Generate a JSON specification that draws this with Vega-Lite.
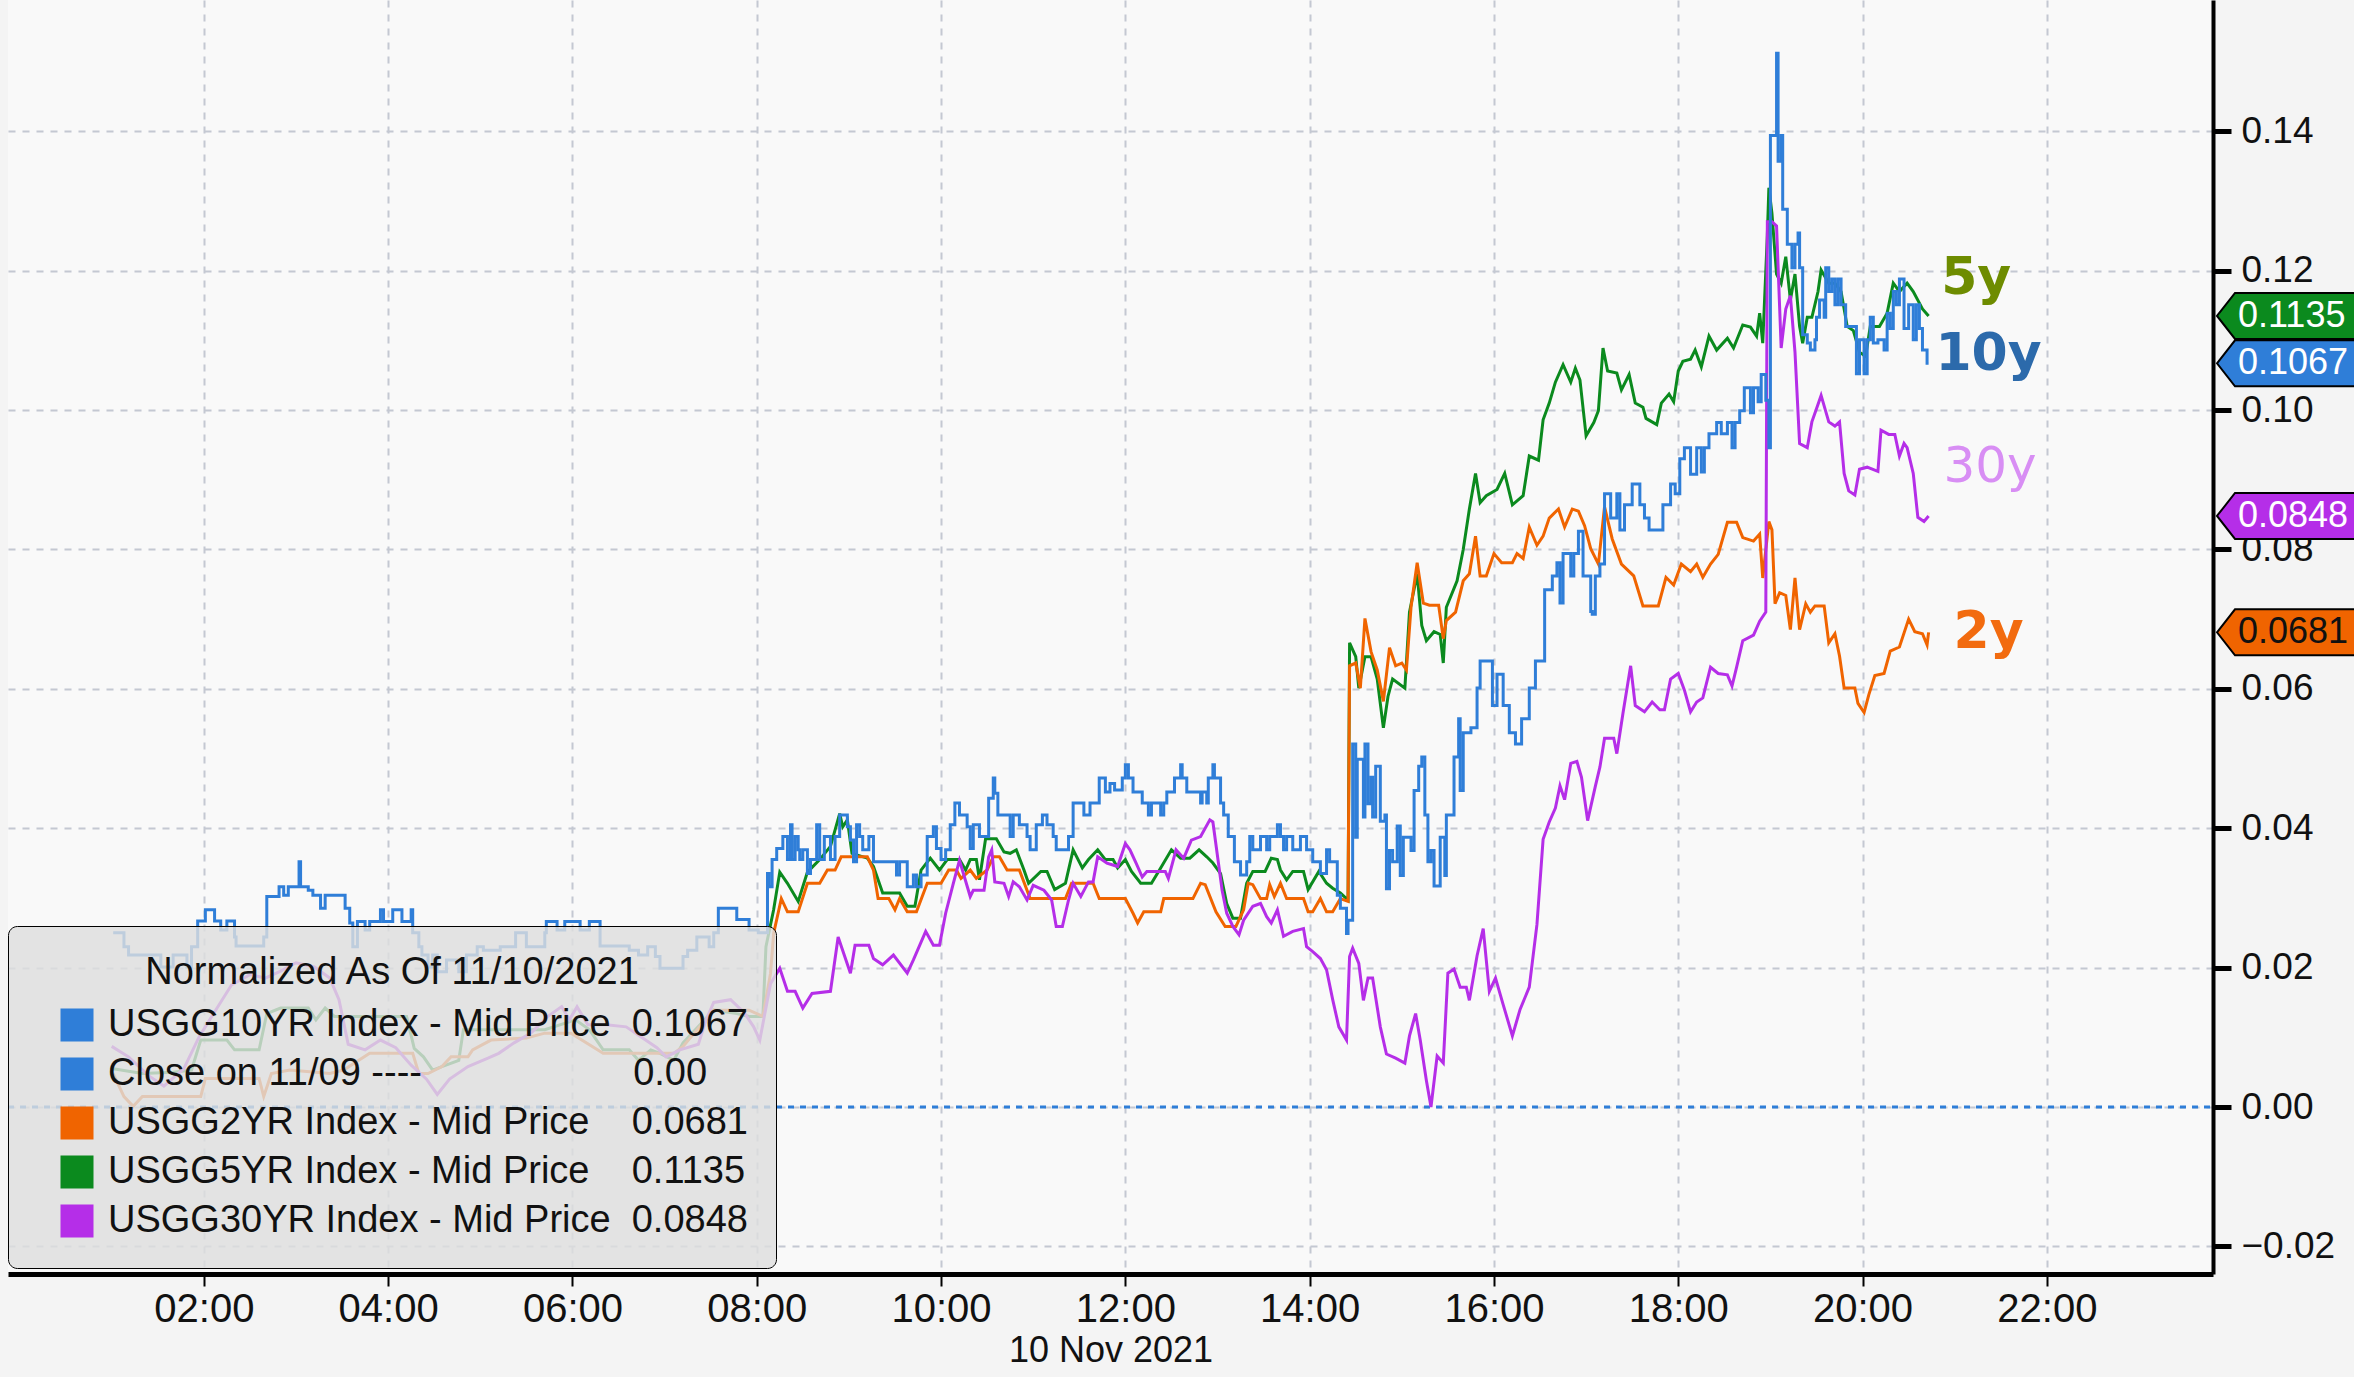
{
  "$schema": "https://vega.github.io/schema/vega-lite/v6.json",
  "width": 2205,
  "height": 1274,
  "autosize": {"type": "none"},
  "padding": {"left": 8, "top": 0, "right": 141, "bottom": 103},
  "background": "#f4f4f4",
  "config": {
    "view": {"stroke": null, "fill": "#f9f9f9"},
    "font": "Liberation Sans"
  },
  "datasets": {
    "names": [
      {"series": "USGG10YR", "name": "USGG10YR Index - Mid Price\u00a0\u00a00.1067"},
      {"series": "Close", "name": "Close on 11/09 ----\u00a0\u00a0\u00a0\u00a0\u00a0\u00a0\u00a0\u00a0\u00a0\u00a0\u00a0\u00a0\u00a0\u00a0\u00a0\u00a0\u00a0\u00a0\u00a0\u00a00.00"},
      {"series": "USGG2YR", "name": "USGG2YR Index - Mid Price\u00a0\u00a0\u00a0\u00a00.0681"},
      {"series": "USGG5YR", "name": "USGG5YR Index - Mid Price\u00a0\u00a0\u00a0\u00a00.1135"},
      {"series": "USGG30YR", "name": "USGG30YR Index - Mid Price\u00a0\u00a00.0848"}
    ],
    "tags": [
      {"series": "USGG5YR", "time": "2021-11-10T23:48:10", "value": 0.1135},
      {"series": "USGG10YR", "time": "2021-11-10T23:48:10", "value": 0.1067},
      {"series": "USGG30YR", "time": "2021-11-10T23:48:10", "value": 0.0848},
      {"series": "USGG2YR", "time": "2021-11-10T23:48:10", "value": 0.0681}
    ],
    "notes": [
      {"label": "5y", "time": "2021-11-10T21:14", "value": 0.1189},
      {"label": "10y", "time": "2021-11-10T21:22", "value": 0.1080},
      {"label": "30y", "time": "2021-11-10T21:23", "value": 0.0918},
      {"label": "2y", "time": "2021-11-10T21:22", "value": 0.0681}
    ],
    "closeline": [
      {"series": "Close", "time": "2021-11-09T23:52:30", "value": 0},
      {"series": "Close", "time": "2021-11-10T23:48:10", "value": 0}
    ],
    "yields": [
      {"series":"USGG10YR","time":"2021-11-10T01:01","value":0.0250},
      {"series":"USGG10YR","time":"2021-11-10T01:08","value":0.0230},
      {"series":"USGG10YR","time":"2021-11-10T01:11","value":0.0218},
      {"series":"USGG10YR","time":"2021-11-10T01:32","value":0.0201},
      {"series":"USGG10YR","time":"2021-11-10T01:40","value":0.0218},
      {"series":"USGG10YR","time":"2021-11-10T01:49","value":0.0201},
      {"series":"USGG10YR","time":"2021-11-10T01:52","value":0.0230},
      {"series":"USGG10YR","time":"2021-11-10T01:56","value":0.0267},
      {"series":"USGG10YR","time":"2021-11-10T02:01","value":0.0283},
      {"series":"USGG10YR","time":"2021-11-10T02:07","value":0.0267},
      {"series":"USGG10YR","time":"2021-11-10T02:11","value":0.0254},
      {"series":"USGG10YR","time":"2021-11-10T02:15","value":0.0267},
      {"series":"USGG10YR","time":"2021-11-10T02:20","value":0.0244},
      {"series":"USGG10YR","time":"2021-11-10T02:21","value":0.0231},
      {"series":"USGG10YR","time":"2021-11-10T02:39","value":0.0244},
      {"series":"USGG10YR","time":"2021-11-10T02:41","value":0.0302},
      {"series":"USGG10YR","time":"2021-11-10T02:49","value":0.0316},
      {"series":"USGG10YR","time":"2021-11-10T02:52","value":0.0304},
      {"series":"USGG10YR","time":"2021-11-10T02:55","value":0.0316},
      {"series":"USGG10YR","time":"2021-11-10T03:02","value":0.0352},
      {"series":"USGG10YR","time":"2021-11-10T03:03","value":0.0316},
      {"series":"USGG10YR","time":"2021-11-10T03:08","value":0.0311},
      {"series":"USGG10YR","time":"2021-11-10T03:11","value":0.0304},
      {"series":"USGG10YR","time":"2021-11-10T03:16","value":0.0285},
      {"series":"USGG10YR","time":"2021-11-10T03:19","value":0.0304},
      {"series":"USGG10YR","time":"2021-11-10T03:32","value":0.0285},
      {"series":"USGG10YR","time":"2021-11-10T03:35","value":0.0264},
      {"series":"USGG10YR","time":"2021-11-10T03:37","value":0.0230},
      {"series":"USGG10YR","time":"2021-11-10T03:40","value":0.0266},
      {"series":"USGG10YR","time":"2021-11-10T03:45","value":0.0254},
      {"series":"USGG10YR","time":"2021-11-10T03:48","value":0.0266},
      {"series":"USGG10YR","time":"2021-11-10T03:55","value":0.0283},
      {"series":"USGG10YR","time":"2021-11-10T03:57","value":0.0266},
      {"series":"USGG10YR","time":"2021-11-10T04:03","value":0.0283},
      {"series":"USGG10YR","time":"2021-11-10T04:09","value":0.0266},
      {"series":"USGG10YR","time":"2021-11-10T04:15","value":0.0283},
      {"series":"USGG10YR","time":"2021-11-10T04:16","value":0.0250},
      {"series":"USGG10YR","time":"2021-11-10T04:20","value":0.0230},
      {"series":"USGG10YR","time":"2021-11-10T04:22","value":0.0218},
      {"series":"USGG10YR","time":"2021-11-10T04:26","value":0.0201},
      {"series":"USGG10YR","time":"2021-11-10T04:29","value":0.0218},
      {"series":"USGG10YR","time":"2021-11-10T04:32","value":0.0194},
      {"series":"USGG10YR","time":"2021-11-10T04:38","value":0.0211},
      {"series":"USGG10YR","time":"2021-11-10T04:46","value":0.0194},
      {"series":"USGG10YR","time":"2021-11-10T04:51","value":0.0218},
      {"series":"USGG10YR","time":"2021-11-10T04:58","value":0.0230},
      {"series":"USGG10YR","time":"2021-11-10T05:02","value":0.0225},
      {"series":"USGG10YR","time":"2021-11-10T05:13","value":0.0230},
      {"series":"USGG10YR","time":"2021-11-10T05:23","value":0.0250},
      {"series":"USGG10YR","time":"2021-11-10T05:30","value":0.0230},
      {"series":"USGG10YR","time":"2021-11-10T05:42","value":0.0250},
      {"series":"USGG10YR","time":"2021-11-10T05:43","value":0.0266},
      {"series":"USGG10YR","time":"2021-11-10T05:50","value":0.0254},
      {"series":"USGG10YR","time":"2021-11-10T05:55","value":0.0266},
      {"series":"USGG10YR","time":"2021-11-10T06:05","value":0.0254},
      {"series":"USGG10YR","time":"2021-11-10T06:11","value":0.0266},
      {"series":"USGG10YR","time":"2021-11-10T06:18","value":0.0231},
      {"series":"USGG10YR","time":"2021-11-10T06:37","value":0.0225},
      {"series":"USGG10YR","time":"2021-11-10T06:43","value":0.0218},
      {"series":"USGG10YR","time":"2021-11-10T06:49","value":0.0230},
      {"series":"USGG10YR","time":"2021-11-10T06:54","value":0.0216},
      {"series":"USGG10YR","time":"2021-11-10T06:57","value":0.0199},
      {"series":"USGG10YR","time":"2021-11-10T07:12","value":0.0216},
      {"series":"USGG10YR","time":"2021-11-10T07:15","value":0.0225},
      {"series":"USGG10YR","time":"2021-11-10T07:21","value":0.0244},
      {"series":"USGG10YR","time":"2021-11-10T07:29","value":0.0230},
      {"series":"USGG10YR","time":"2021-11-10T07:32","value":0.0250},
      {"series":"USGG10YR","time":"2021-11-10T07:35","value":0.0285},
      {"series":"USGG10YR","time":"2021-11-10T07:47","value":0.0269},
      {"series":"USGG10YR","time":"2021-11-10T07:55","value":0.0254},
      {"series":"USGG10YR","time":"2021-11-10T08:01","value":0.0250},
      {"series":"USGG10YR","time":"2021-11-10T08:07","value":0.0335},
      {"series":"USGG10YR","time":"2021-11-10T08:08","value":0.0316},
      {"series":"USGG10YR","time":"2021-11-10T08:10","value":0.0355},
      {"series":"USGG10YR","time":"2021-11-10T08:13","value":0.0371},
      {"series":"USGG10YR","time":"2021-11-10T08:17","value":0.0388},
      {"series":"USGG10YR","time":"2021-11-10T08:20","value":0.0355},
      {"series":"USGG10YR","time":"2021-11-10T08:22","value":0.0405},
      {"series":"USGG10YR","time":"2021-11-10T08:23","value":0.0355},
      {"series":"USGG10YR","time":"2021-11-10T08:25","value":0.0388},
      {"series":"USGG10YR","time":"2021-11-10T08:27","value":0.0369},
      {"series":"USGG10YR","time":"2021-11-10T08:28","value":0.0355},
      {"series":"USGG10YR","time":"2021-11-10T08:30","value":0.0369},
      {"series":"USGG10YR","time":"2021-11-10T08:33","value":0.0335},
      {"series":"USGG10YR","time":"2021-11-10T08:35","value":0.0355},
      {"series":"USGG10YR","time":"2021-11-10T08:39","value":0.0405},
      {"series":"USGG10YR","time":"2021-11-10T08:41","value":0.0355},
      {"series":"USGG10YR","time":"2021-11-10T08:44","value":0.0388},
      {"series":"USGG10YR","time":"2021-11-10T08:48","value":0.0355},
      {"series":"USGG10YR","time":"2021-11-10T08:51","value":0.0388},
      {"series":"USGG10YR","time":"2021-11-10T08:54","value":0.0419},
      {"series":"USGG10YR","time":"2021-11-10T08:59","value":0.0402},
      {"series":"USGG10YR","time":"2021-11-10T09:01","value":0.0383},
      {"series":"USGG10YR","time":"2021-11-10T09:03","value":0.0352},
      {"series":"USGG10YR","time":"2021-11-10T09:05","value":0.0405},
      {"series":"USGG10YR","time":"2021-11-10T09:07","value":0.0388},
      {"series":"USGG10YR","time":"2021-11-10T09:09","value":0.0369},
      {"series":"USGG10YR","time":"2021-11-10T09:13","value":0.0388},
      {"series":"USGG10YR","time":"2021-11-10T09:16","value":0.0352},
      {"series":"USGG10YR","time":"2021-11-10T09:31","value":0.0333},
      {"series":"USGG10YR","time":"2021-11-10T09:33","value":0.0352},
      {"series":"USGG10YR","time":"2021-11-10T09:38","value":0.0316},
      {"series":"USGG10YR","time":"2021-11-10T09:42","value":0.0333},
      {"series":"USGG10YR","time":"2021-11-10T09:44","value":0.0316},
      {"series":"USGG10YR","time":"2021-11-10T09:47","value":0.0333},
      {"series":"USGG10YR","time":"2021-11-10T09:51","value":0.0388},
      {"series":"USGG10YR","time":"2021-11-10T09:55","value":0.0402},
      {"series":"USGG10YR","time":"2021-11-10T09:57","value":0.0371},
      {"series":"USGG10YR","time":"2021-11-10T10:00","value":0.0355},
      {"series":"USGG10YR","time":"2021-11-10T10:03","value":0.0369},
      {"series":"USGG10YR","time":"2021-11-10T10:06","value":0.0405},
      {"series":"USGG10YR","time":"2021-11-10T10:09","value":0.0436},
      {"series":"USGG10YR","time":"2021-11-10T10:12","value":0.0419},
      {"series":"USGG10YR","time":"2021-11-10T10:17","value":0.0402},
      {"series":"USGG10YR","time":"2021-11-10T10:19","value":0.0371},
      {"series":"USGG10YR","time":"2021-11-10T10:21","value":0.0405},
      {"series":"USGG10YR","time":"2021-11-10T10:25","value":0.0388},
      {"series":"USGG10YR","time":"2021-11-10T10:31","value":0.0443},
      {"series":"USGG10YR","time":"2021-11-10T10:34","value":0.0472},
      {"series":"USGG10YR","time":"2021-11-10T10:35","value":0.0450},
      {"series":"USGG10YR","time":"2021-11-10T10:37","value":0.0419},
      {"series":"USGG10YR","time":"2021-11-10T10:45","value":0.0388},
      {"series":"USGG10YR","time":"2021-11-10T10:47","value":0.0419},
      {"series":"USGG10YR","time":"2021-11-10T10:51","value":0.0405},
      {"series":"USGG10YR","time":"2021-11-10T10:56","value":0.0388},
      {"series":"USGG10YR","time":"2021-11-10T10:58","value":0.0369},
      {"series":"USGG10YR","time":"2021-11-10T11:02","value":0.0405},
      {"series":"USGG10YR","time":"2021-11-10T11:06","value":0.0419},
      {"series":"USGG10YR","time":"2021-11-10T11:09","value":0.0405},
      {"series":"USGG10YR","time":"2021-11-10T11:13","value":0.0388},
      {"series":"USGG10YR","time":"2021-11-10T11:15","value":0.0369},
      {"series":"USGG10YR","time":"2021-11-10T11:23","value":0.0388},
      {"series":"USGG10YR","time":"2021-11-10T11:26","value":0.0436},
      {"series":"USGG10YR","time":"2021-11-10T11:33","value":0.0419},
      {"series":"USGG10YR","time":"2021-11-10T11:37","value":0.0436},
      {"series":"USGG10YR","time":"2021-11-10T11:43","value":0.0472},
      {"series":"USGG10YR","time":"2021-11-10T11:47","value":0.0452},
      {"series":"USGG10YR","time":"2021-11-10T11:50","value":0.0464},
      {"series":"USGG10YR","time":"2021-11-10T11:53","value":0.0455},
      {"series":"USGG10YR","time":"2021-11-10T11:58","value":0.0472},
      {"series":"USGG10YR","time":"2021-11-10T12:00","value":0.0491},
      {"series":"USGG10YR","time":"2021-11-10T12:02","value":0.0472},
      {"series":"USGG10YR","time":"2021-11-10T12:05","value":0.0452},
      {"series":"USGG10YR","time":"2021-11-10T12:11","value":0.0436},
      {"series":"USGG10YR","time":"2021-11-10T12:15","value":0.0419},
      {"series":"USGG10YR","time":"2021-11-10T12:17","value":0.0436},
      {"series":"USGG10YR","time":"2021-11-10T12:23","value":0.0419},
      {"series":"USGG10YR","time":"2021-11-10T12:25","value":0.0436},
      {"series":"USGG10YR","time":"2021-11-10T12:27","value":0.0452},
      {"series":"USGG10YR","time":"2021-11-10T12:32","value":0.0472},
      {"series":"USGG10YR","time":"2021-11-10T12:36","value":0.0491},
      {"series":"USGG10YR","time":"2021-11-10T12:37","value":0.0472},
      {"series":"USGG10YR","time":"2021-11-10T12:40","value":0.0452},
      {"series":"USGG10YR","time":"2021-11-10T12:49","value":0.0436},
      {"series":"USGG10YR","time":"2021-11-10T12:50","value":0.0452},
      {"series":"USGG10YR","time":"2021-11-10T12:53","value":0.0436},
      {"series":"USGG10YR","time":"2021-11-10T12:54","value":0.0472},
      {"series":"USGG10YR","time":"2021-11-10T12:57","value":0.0491},
      {"series":"USGG10YR","time":"2021-11-10T12:58","value":0.0472},
      {"series":"USGG10YR","time":"2021-11-10T13:02","value":0.0436},
      {"series":"USGG10YR","time":"2021-11-10T13:04","value":0.0419},
      {"series":"USGG10YR","time":"2021-11-10T13:07","value":0.0388},
      {"series":"USGG10YR","time":"2021-11-10T13:11","value":0.0352},
      {"series":"USGG10YR","time":"2021-11-10T13:15","value":0.0333},
      {"series":"USGG10YR","time":"2021-11-10T13:19","value":0.0352},
      {"series":"USGG10YR","time":"2021-11-10T13:21","value":0.0388},
      {"series":"USGG10YR","time":"2021-11-10T13:23","value":0.0369},
      {"series":"USGG10YR","time":"2021-11-10T13:28","value":0.0388},
      {"series":"USGG10YR","time":"2021-11-10T13:32","value":0.0369},
      {"series":"USGG10YR","time":"2021-11-10T13:34","value":0.0388},
      {"series":"USGG10YR","time":"2021-11-10T13:39","value":0.0405},
      {"series":"USGG10YR","time":"2021-11-10T13:41","value":0.0388},
      {"series":"USGG10YR","time":"2021-11-10T13:43","value":0.0369},
      {"series":"USGG10YR","time":"2021-11-10T13:45","value":0.0388},
      {"series":"USGG10YR","time":"2021-11-10T13:49","value":0.0369},
      {"series":"USGG10YR","time":"2021-11-10T13:54","value":0.0388},
      {"series":"USGG10YR","time":"2021-11-10T13:58","value":0.0369},
      {"series":"USGG10YR","time":"2021-11-10T14:02","value":0.0352},
      {"series":"USGG10YR","time":"2021-11-10T14:07","value":0.0335},
      {"series":"USGG10YR","time":"2021-11-10T14:11","value":0.0369},
      {"series":"USGG10YR","time":"2021-11-10T14:13","value":0.0352},
      {"series":"USGG10YR","time":"2021-11-10T14:18","value":0.0304},
      {"series":"USGG10YR","time":"2021-11-10T14:20","value":0.0285},
      {"series":"USGG10YR","time":"2021-11-10T14:24","value":0.0249},
      {"series":"USGG10YR","time":"2021-11-10T14:25","value":0.0268},
      {"series":"USGG10YR","time":"2021-11-10T14:28","value":0.0521},
      {"series":"USGG10YR","time":"2021-11-10T14:30","value":0.0387},
      {"series":"USGG10YR","time":"2021-11-10T14:31","value":0.0499},
      {"series":"USGG10YR","time":"2021-11-10T14:35","value":0.0416},
      {"series":"USGG10YR","time":"2021-11-10T14:36","value":0.0521},
      {"series":"USGG10YR","time":"2021-11-10T14:38","value":0.0435},
      {"series":"USGG10YR","time":"2021-11-10T14:40","value":0.0473},
      {"series":"USGG10YR","time":"2021-11-10T14:41","value":0.0416},
      {"series":"USGG10YR","time":"2021-11-10T14:43","value":0.0489},
      {"series":"USGG10YR","time":"2021-11-10T14:46","value":0.0410},
      {"series":"USGG10YR","time":"2021-11-10T14:49","value":0.0419},
      {"series":"USGG10YR","time":"2021-11-10T14:50","value":0.0313},
      {"series":"USGG10YR","time":"2021-11-10T14:52","value":0.0368},
      {"series":"USGG10YR","time":"2021-11-10T14:54","value":0.0352},
      {"series":"USGG10YR","time":"2021-11-10T14:57","value":0.0403},
      {"series":"USGG10YR","time":"2021-11-10T14:59","value":0.0332},
      {"series":"USGG10YR","time":"2021-11-10T15:01","value":0.0387},
      {"series":"USGG10YR","time":"2021-11-10T15:06","value":0.0368},
      {"series":"USGG10YR","time":"2021-11-10T15:08","value":0.0454},
      {"series":"USGG10YR","time":"2021-11-10T15:11","value":0.0489},
      {"series":"USGG10YR","time":"2021-11-10T15:13","value":0.0502},
      {"series":"USGG10YR","time":"2021-11-10T15:15","value":0.0419},
      {"series":"USGG10YR","time":"2021-11-10T15:17","value":0.0352},
      {"series":"USGG10YR","time":"2021-11-10T15:19","value":0.0368},
      {"series":"USGG10YR","time":"2021-11-10T15:21","value":0.0317},
      {"series":"USGG10YR","time":"2021-11-10T15:25","value":0.0387},
      {"series":"USGG10YR","time":"2021-11-10T15:28","value":0.0332},
      {"series":"USGG10YR","time":"2021-11-10T15:29","value":0.0419},
      {"series":"USGG10YR","time":"2021-11-10T15:34","value":0.0502},
      {"series":"USGG10YR","time":"2021-11-10T15:37","value":0.0557},
      {"series":"USGG10YR","time":"2021-11-10T15:38","value":0.0454},
      {"series":"USGG10YR","time":"2021-11-10T15:40","value":0.0537},
      {"series":"USGG10YR","time":"2021-11-10T15:45","value":0.0544},
      {"series":"USGG10YR","time":"2021-11-10T15:49","value":0.0601},
      {"series":"USGG10YR","time":"2021-11-10T15:51","value":0.0640},
      {"series":"USGG10YR","time":"2021-11-10T15:59","value":0.0576},
      {"series":"USGG10YR","time":"2021-11-10T16:02","value":0.0621},
      {"series":"USGG10YR","time":"2021-11-10T16:06","value":0.0576},
      {"series":"USGG10YR","time":"2021-11-10T16:10","value":0.0537},
      {"series":"USGG10YR","time":"2021-11-10T16:14","value":0.0521},
      {"series":"USGG10YR","time":"2021-11-10T16:18","value":0.0557},
      {"series":"USGG10YR","time":"2021-11-10T16:23","value":0.0601},
      {"series":"USGG10YR","time":"2021-11-10T16:27","value":0.0640},
      {"series":"USGG10YR","time":"2021-11-10T16:33","value":0.0742},
      {"series":"USGG10YR","time":"2021-11-10T16:38","value":0.0762},
      {"series":"USGG10YR","time":"2021-11-10T16:41","value":0.0781},
      {"series":"USGG10YR","time":"2021-11-10T16:43","value":0.0723},
      {"series":"USGG10YR","time":"2021-11-10T16:45","value":0.0794},
      {"series":"USGG10YR","time":"2021-11-10T16:50","value":0.0762},
      {"series":"USGG10YR","time":"2021-11-10T16:52","value":0.0794},
      {"series":"USGG10YR","time":"2021-11-10T16:55","value":0.0826},
      {"series":"USGG10YR","time":"2021-11-10T16:58","value":0.0762},
      {"series":"USGG10YR","time":"2021-11-10T17:03","value":0.0711},
      {"series":"USGG10YR","time":"2021-11-10T17:04","value":0.0707},
      {"series":"USGG10YR","time":"2021-11-10T17:06","value":0.0762},
      {"series":"USGG10YR","time":"2021-11-10T17:09","value":0.0779},
      {"series":"USGG10YR","time":"2021-11-10T17:12","value":0.0880},
      {"series":"USGG10YR","time":"2021-11-10T17:16","value":0.0845},
      {"series":"USGG10YR","time":"2021-11-10T17:20","value":0.0880},
      {"series":"USGG10YR","time":"2021-11-10T17:22","value":0.0828},
      {"series":"USGG10YR","time":"2021-11-10T17:25","value":0.0864},
      {"series":"USGG10YR","time":"2021-11-10T17:30","value":0.0894},
      {"series":"USGG10YR","time":"2021-11-10T17:35","value":0.0864},
      {"series":"USGG10YR","time":"2021-11-10T17:38","value":0.0845},
      {"series":"USGG10YR","time":"2021-11-10T17:41","value":0.0828},
      {"series":"USGG10YR","time":"2021-11-10T17:50","value":0.0864},
      {"series":"USGG10YR","time":"2021-11-10T17:55","value":0.0894},
      {"series":"USGG10YR","time":"2021-11-10T17:58","value":0.0880},
      {"series":"USGG10YR","time":"2021-11-10T18:01","value":0.0930},
      {"series":"USGG10YR","time":"2021-11-10T18:04","value":0.0946},
      {"series":"USGG10YR","time":"2021-11-10T18:08","value":0.0908},
      {"series":"USGG10YR","time":"2021-11-10T18:12","value":0.0946},
      {"series":"USGG10YR","time":"2021-11-10T18:15","value":0.0911},
      {"series":"USGG10YR","time":"2021-11-10T18:17","value":0.0946},
      {"series":"USGG10YR","time":"2021-11-10T18:20","value":0.0966},
      {"series":"USGG10YR","time":"2021-11-10T18:25","value":0.0982},
      {"series":"USGG10YR","time":"2021-11-10T18:28","value":0.0966},
      {"series":"USGG10YR","time":"2021-11-10T18:32","value":0.0982},
      {"series":"USGG10YR","time":"2021-11-10T18:35","value":0.0946},
      {"series":"USGG10YR","time":"2021-11-10T18:37","value":0.0982},
      {"series":"USGG10YR","time":"2021-11-10T18:40","value":0.0999},
      {"series":"USGG10YR","time":"2021-11-10T18:43","value":0.1032},
      {"series":"USGG10YR","time":"2021-11-10T18:47","value":0.0996},
      {"series":"USGG10YR","time":"2021-11-10T18:49","value":0.1032},
      {"series":"USGG10YR","time":"2021-11-10T18:52","value":0.1012},
      {"series":"USGG10YR","time":"2021-11-10T18:54","value":0.1051},
      {"series":"USGG10YR","time":"2021-11-10T18:57","value":0.1014},
      {"series":"USGG10YR","time":"2021-11-10T18:59","value":0.0946},
      {"series":"USGG10YR","time":"2021-11-10T19:00","value":0.1394},
      {"series":"USGG10YR","time":"2021-11-10T19:04","value":0.1512},
      {"series":"USGG10YR","time":"2021-11-10T19:05","value":0.1357},
      {"series":"USGG10YR","time":"2021-11-10T19:07","value":0.1394},
      {"series":"USGG10YR","time":"2021-11-10T19:08","value":0.1288},
      {"series":"USGG10YR","time":"2021-11-10T19:11","value":0.1238},
      {"series":"USGG10YR","time":"2021-11-10T19:14","value":0.1204},
      {"series":"USGG10YR","time":"2021-11-10T19:16","value":0.1238},
      {"series":"USGG10YR","time":"2021-11-10T19:18","value":0.1254},
      {"series":"USGG10YR","time":"2021-11-10T19:19","value":0.1204},
      {"series":"USGG10YR","time":"2021-11-10T19:21","value":0.1108},
      {"series":"USGG10YR","time":"2021-11-10T19:24","value":0.1096},
      {"series":"USGG10YR","time":"2021-11-10T19:26","value":0.1086},
      {"series":"USGG10YR","time":"2021-11-10T19:29","value":0.1101},
      {"series":"USGG10YR","time":"2021-11-10T19:30","value":0.1133},
      {"series":"USGG10YR","time":"2021-11-10T19:32","value":0.1158},
      {"series":"USGG10YR","time":"2021-11-10T19:35","value":0.1133},
      {"series":"USGG10YR","time":"2021-11-10T19:36","value":0.1204},
      {"series":"USGG10YR","time":"2021-11-10T19:38","value":0.1170},
      {"series":"USGG10YR","time":"2021-11-10T19:40","value":0.1188},
      {"series":"USGG10YR","time":"2021-11-10T19:42","value":0.1151},
      {"series":"USGG10YR","time":"2021-11-10T19:44","value":0.1188},
      {"series":"USGG10YR","time":"2021-11-10T19:46","value":0.1151},
      {"series":"USGG10YR","time":"2021-11-10T19:49","value":0.1120},
      {"series":"USGG10YR","time":"2021-11-10T19:56","value":0.1052},
      {"series":"USGG10YR","time":"2021-11-10T19:58","value":0.1101},
      {"series":"USGG10YR","time":"2021-11-10T20:01","value":0.1052},
      {"series":"USGG10YR","time":"2021-11-10T20:03","value":0.1101},
      {"series":"USGG10YR","time":"2021-11-10T20:05","value":0.1133},
      {"series":"USGG10YR","time":"2021-11-10T20:07","value":0.1096},
      {"series":"USGG10YR","time":"2021-11-10T20:10","value":0.1101},
      {"series":"USGG10YR","time":"2021-11-10T20:14","value":0.1086},
      {"series":"USGG10YR","time":"2021-11-10T20:16","value":0.1139},
      {"series":"USGG10YR","time":"2021-11-10T20:18","value":0.1117},
      {"series":"USGG10YR","time":"2021-11-10T20:20","value":0.1170},
      {"series":"USGG10YR","time":"2021-11-10T20:22","value":0.1151},
      {"series":"USGG10YR","time":"2021-11-10T20:24","value":0.1188},
      {"series":"USGG10YR","time":"2021-11-10T20:27","value":0.1117},
      {"series":"USGG10YR","time":"2021-11-10T20:30","value":0.1151},
      {"series":"USGG10YR","time":"2021-11-10T20:33","value":0.1101},
      {"series":"USGG10YR","time":"2021-11-10T20:35","value":0.1151},
      {"series":"USGG10YR","time":"2021-11-10T20:37","value":0.1117},
      {"series":"USGG10YR","time":"2021-11-10T20:39","value":0.1086},
      {"series":"USGG10YR","time":"2021-11-10T20:42","value":0.1067},
      {"series":"USGG10YR","time":"2021-11-10T20:43","value":0.1067},

      {"series":"USGG5YR","time":"2021-11-10T01:01","value":0.0055},
      {"series":"USGG5YR","time":"2021-11-10T01:20","value":0.0048},
      {"series":"USGG5YR","time":"2021-11-10T01:40","value":0.0050},
      {"series":"USGG5YR","time":"2021-11-10T01:52","value":0.0053},
      {"series":"USGG5YR","time":"2021-11-10T01:58","value":0.0096},
      {"series":"USGG5YR","time":"2021-11-10T02:15","value":0.0096},
      {"series":"USGG5YR","time":"2021-11-10T02:20","value":0.0082},
      {"series":"USGG5YR","time":"2021-11-10T02:36","value":0.0082},
      {"series":"USGG5YR","time":"2021-11-10T02:41","value":0.0134},
      {"series":"USGG5YR","time":"2021-11-10T02:50","value":0.0142},
      {"series":"USGG5YR","time":"2021-11-10T03:08","value":0.0142},
      {"series":"USGG5YR","time":"2021-11-10T03:13","value":0.0125},
      {"series":"USGG5YR","time":"2021-11-10T03:19","value":0.0142},
      {"series":"USGG5YR","time":"2021-11-10T03:25","value":0.0130},
      {"series":"USGG5YR","time":"2021-11-10T04:12","value":0.0130},
      {"series":"USGG5YR","time":"2021-11-10T04:17","value":0.0084},
      {"series":"USGG5YR","time":"2021-11-10T04:23","value":0.0072},
      {"series":"USGG5YR","time":"2021-11-10T04:29","value":0.0053},
      {"series":"USGG5YR","time":"2021-11-10T04:35","value":0.0058},
      {"series":"USGG5YR","time":"2021-11-10T04:46","value":0.0067},
      {"series":"USGG5YR","time":"2021-11-10T04:49","value":0.0111},
      {"series":"USGG5YR","time":"2021-11-10T05:42","value":0.0111},
      {"series":"USGG5YR","time":"2021-11-10T06:02","value":0.0125},
      {"series":"USGG5YR","time":"2021-11-10T06:11","value":0.0111},
      {"series":"USGG5YR","time":"2021-11-10T06:20","value":0.0082},
      {"series":"USGG5YR","time":"2021-11-10T06:37","value":0.0082},
      {"series":"USGG5YR","time":"2021-11-10T06:43","value":0.0067},
      {"series":"USGG5YR","time":"2021-11-10T06:51","value":0.0082},
      {"series":"USGG5YR","time":"2021-11-10T06:57","value":0.0077},
      {"series":"USGG5YR","time":"2021-11-10T07:06","value":0.0067},
      {"series":"USGG5YR","time":"2021-11-10T07:12","value":0.0092},
      {"series":"USGG5YR","time":"2021-11-10T07:32","value":0.0139},
      {"series":"USGG5YR","time":"2021-11-10T07:47","value":0.0134},
      {"series":"USGG5YR","time":"2021-11-10T07:55","value":0.0130},
      {"series":"USGG5YR","time":"2021-11-10T08:04","value":0.0130},
      {"series":"USGG5YR","time":"2021-11-10T08:06","value":0.0230},
      {"series":"USGG5YR","time":"2021-11-10T08:11","value":0.0283},
      {"series":"USGG5YR","time":"2021-11-10T08:15","value":0.0337},
      {"series":"USGG5YR","time":"2021-11-10T08:20","value":0.0321},
      {"series":"USGG5YR","time":"2021-11-10T08:27","value":0.0295},
      {"series":"USGG5YR","time":"2021-11-10T08:33","value":0.0337},
      {"series":"USGG5YR","time":"2021-11-10T08:41","value":0.0355},
      {"series":"USGG5YR","time":"2021-11-10T08:48","value":0.0374},
      {"series":"USGG5YR","time":"2021-11-10T08:54","value":0.0421},
      {"series":"USGG5YR","time":"2021-11-10T08:56","value":0.0402},
      {"series":"USGG5YR","time":"2021-11-10T08:59","value":0.0412},
      {"series":"USGG5YR","time":"2021-11-10T09:02","value":0.0364},
      {"series":"USGG5YR","time":"2021-11-10T09:12","value":0.0357},
      {"series":"USGG5YR","time":"2021-11-10T09:16","value":0.0345},
      {"series":"USGG5YR","time":"2021-11-10T09:22","value":0.0307},
      {"series":"USGG5YR","time":"2021-11-10T09:33","value":0.0307},
      {"series":"USGG5YR","time":"2021-11-10T09:38","value":0.0288},
      {"series":"USGG5YR","time":"2021-11-10T09:43","value":0.0288},
      {"series":"USGG5YR","time":"2021-11-10T09:47","value":0.0340},
      {"series":"USGG5YR","time":"2021-11-10T09:53","value":0.0357},
      {"series":"USGG5YR","time":"2021-11-10T09:59","value":0.0340},
      {"series":"USGG5YR","time":"2021-11-10T10:04","value":0.0355},
      {"series":"USGG5YR","time":"2021-11-10T10:12","value":0.0355},
      {"series":"USGG5YR","time":"2021-11-10T10:16","value":0.0340},
      {"series":"USGG5YR","time":"2021-11-10T10:19","value":0.0355},
      {"series":"USGG5YR","time":"2021-11-10T10:23","value":0.0355},
      {"series":"USGG5YR","time":"2021-11-10T10:25","value":0.0326},
      {"series":"USGG5YR","time":"2021-11-10T10:29","value":0.0385},
      {"series":"USGG5YR","time":"2021-11-10T10:36","value":0.0385},
      {"series":"USGG5YR","time":"2021-11-10T10:41","value":0.0366},
      {"series":"USGG5YR","time":"2021-11-10T10:45","value":0.0364},
      {"series":"USGG5YR","time":"2021-11-10T10:49","value":0.0369},
      {"series":"USGG5YR","time":"2021-11-10T10:54","value":0.0340},
      {"series":"USGG5YR","time":"2021-11-10T10:57","value":0.0321},
      {"series":"USGG5YR","time":"2021-11-10T11:05","value":0.0338},
      {"series":"USGG5YR","time":"2021-11-10T11:09","value":0.0338},
      {"series":"USGG5YR","time":"2021-11-10T11:14","value":0.0312},
      {"series":"USGG5YR","time":"2021-11-10T11:21","value":0.0321},
      {"series":"USGG5YR","time":"2021-11-10T11:26","value":0.0369},
      {"series":"USGG5YR","time":"2021-11-10T11:32","value":0.0343},
      {"series":"USGG5YR","time":"2021-11-10T11:36","value":0.0355},
      {"series":"USGG5YR","time":"2021-11-10T11:42","value":0.0369},
      {"series":"USGG5YR","time":"2021-11-10T11:47","value":0.0355},
      {"series":"USGG5YR","time":"2021-11-10T11:52","value":0.0355},
      {"series":"USGG5YR","time":"2021-11-10T11:55","value":0.0343},
      {"series":"USGG5YR","time":"2021-11-10T12:00","value":0.0355},
      {"series":"USGG5YR","time":"2021-11-10T12:04","value":0.0338},
      {"series":"USGG5YR","time":"2021-11-10T12:10","value":0.0321},
      {"series":"USGG5YR","time":"2021-11-10T12:17","value":0.0321},
      {"series":"USGG5YR","time":"2021-11-10T12:23","value":0.0343},
      {"series":"USGG5YR","time":"2021-11-10T12:30","value":0.0369},
      {"series":"USGG5YR","time":"2021-11-10T12:36","value":0.0357},
      {"series":"USGG5YR","time":"2021-11-10T12:42","value":0.0357},
      {"series":"USGG5YR","time":"2021-11-10T12:48","value":0.0369},
      {"series":"USGG5YR","time":"2021-11-10T12:53","value":0.0359},
      {"series":"USGG5YR","time":"2021-11-10T12:57","value":0.0350},
      {"series":"USGG5YR","time":"2021-11-10T13:02","value":0.0335},
      {"series":"USGG5YR","time":"2021-11-10T13:06","value":0.0292},
      {"series":"USGG5YR","time":"2021-11-10T13:10","value":0.0271},
      {"series":"USGG5YR","time":"2021-11-10T13:15","value":0.0271},
      {"series":"USGG5YR","time":"2021-11-10T13:19","value":0.0321},
      {"series":"USGG5YR","time":"2021-11-10T13:23","value":0.0338},
      {"series":"USGG5YR","time":"2021-11-10T13:31","value":0.0338},
      {"series":"USGG5YR","time":"2021-11-10T13:35","value":0.0357},
      {"series":"USGG5YR","time":"2021-11-10T13:39","value":0.0355},
      {"series":"USGG5YR","time":"2021-11-10T13:41","value":0.0340},
      {"series":"USGG5YR","time":"2021-11-10T13:45","value":0.0326},
      {"series":"USGG5YR","time":"2021-11-10T13:49","value":0.0338},
      {"series":"USGG5YR","time":"2021-11-10T13:56","value":0.0338},
      {"series":"USGG5YR","time":"2021-11-10T13:59","value":0.0312},
      {"series":"USGG5YR","time":"2021-11-10T14:06","value":0.0338},
      {"series":"USGG5YR","time":"2021-11-10T14:11","value":0.0321},
      {"series":"USGG5YR","time":"2021-11-10T14:15","value":0.0314},
      {"series":"USGG5YR","time":"2021-11-10T14:20","value":0.0307},
      {"series":"USGG5YR","time":"2021-11-10T14:25","value":0.0297},
      {"series":"USGG5YR","time":"2021-11-10T14:26","value":0.0666},
      {"series":"USGG5YR","time":"2021-11-10T14:30","value":0.0646},
      {"series":"USGG5YR","time":"2021-11-10T14:32","value":0.0601},
      {"series":"USGG5YR","time":"2021-11-10T14:36","value":0.0646},
      {"series":"USGG5YR","time":"2021-11-10T14:40","value":0.0646},
      {"series":"USGG5YR","time":"2021-11-10T14:44","value":0.0614},
      {"series":"USGG5YR","time":"2021-11-10T14:48","value":0.0544},
      {"series":"USGG5YR","time":"2021-11-10T14:51","value":0.0589},
      {"series":"USGG5YR","time":"2021-11-10T14:54","value":0.0614},
      {"series":"USGG5YR","time":"2021-11-10T15:02","value":0.0601},
      {"series":"USGG5YR","time":"2021-11-10T15:05","value":0.0710},
      {"series":"USGG5YR","time":"2021-11-10T15:10","value":0.0765},
      {"series":"USGG5YR","time":"2021-11-10T15:13","value":0.0691},
      {"series":"USGG5YR","time":"2021-11-10T15:16","value":0.0669},
      {"series":"USGG5YR","time":"2021-11-10T15:21","value":0.0682},
      {"series":"USGG5YR","time":"2021-11-10T15:25","value":0.0678},
      {"series":"USGG5YR","time":"2021-11-10T15:27","value":0.0637},
      {"series":"USGG5YR","time":"2021-11-10T15:29","value":0.0717},
      {"series":"USGG5YR","time":"2021-11-10T15:36","value":0.0755},
      {"series":"USGG5YR","time":"2021-11-10T15:40","value":0.0800},
      {"series":"USGG5YR","time":"2021-11-10T15:44","value":0.0858},
      {"series":"USGG5YR","time":"2021-11-10T15:48","value":0.0909},
      {"series":"USGG5YR","time":"2021-11-10T15:51","value":0.0867},
      {"series":"USGG5YR","time":"2021-11-10T15:55","value":0.0877},
      {"series":"USGG5YR","time":"2021-11-10T16:02","value":0.0886},
      {"series":"USGG5YR","time":"2021-11-10T16:07","value":0.0909},
      {"series":"USGG5YR","time":"2021-11-10T16:12","value":0.0864},
      {"series":"USGG5YR","time":"2021-11-10T16:19","value":0.0877},
      {"series":"USGG5YR","time":"2021-11-10T16:23","value":0.0934},
      {"series":"USGG5YR","time":"2021-11-10T16:29","value":0.0928},
      {"series":"USGG5YR","time":"2021-11-10T16:32","value":0.0986},
      {"series":"USGG5YR","time":"2021-11-10T16:36","value":0.1010},
      {"series":"USGG5YR","time":"2021-11-10T16:40","value":0.1040},
      {"series":"USGG5YR","time":"2021-11-10T16:45","value":0.1065},
      {"series":"USGG5YR","time":"2021-11-10T16:50","value":0.1040},
      {"series":"USGG5YR","time":"2021-11-10T16:53","value":0.1060},
      {"series":"USGG5YR","time":"2021-11-10T16:56","value":0.1043},
      {"series":"USGG5YR","time":"2021-11-10T17:00","value":0.0963},
      {"series":"USGG5YR","time":"2021-11-10T17:05","value":0.0982},
      {"series":"USGG5YR","time":"2021-11-10T17:08","value":0.0999},
      {"series":"USGG5YR","time":"2021-11-10T17:11","value":0.1089},
      {"series":"USGG5YR","time":"2021-11-10T17:14","value":0.1056},
      {"series":"USGG5YR","time":"2021-11-10T17:20","value":0.1053},
      {"series":"USGG5YR","time":"2021-11-10T17:23","value":0.1029},
      {"series":"USGG5YR","time":"2021-11-10T17:28","value":0.1051},
      {"series":"USGG5YR","time":"2021-11-10T17:32","value":0.1010},
      {"series":"USGG5YR","time":"2021-11-10T17:37","value":0.1004},
      {"series":"USGG5YR","time":"2021-11-10T17:39","value":0.0988},
      {"series":"USGG5YR","time":"2021-11-10T17:46","value":0.0979},
      {"series":"USGG5YR","time":"2021-11-10T17:49","value":0.1010},
      {"series":"USGG5YR","time":"2021-11-10T17:54","value":0.1023},
      {"series":"USGG5YR","time":"2021-11-10T17:57","value":0.1012},
      {"series":"USGG5YR","time":"2021-11-10T18:00","value":0.1056},
      {"series":"USGG5YR","time":"2021-11-10T18:03","value":0.1070},
      {"series":"USGG5YR","time":"2021-11-10T18:08","value":0.1073},
      {"series":"USGG5YR","time":"2021-11-10T18:11","value":0.1086},
      {"series":"USGG5YR","time":"2021-11-10T18:15","value":0.1062},
      {"series":"USGG5YR","time":"2021-11-10T18:20","value":0.1106},
      {"series":"USGG5YR","time":"2021-11-10T18:25","value":0.1086},
      {"series":"USGG5YR","time":"2021-11-10T18:32","value":0.1103},
      {"series":"USGG5YR","time":"2021-11-10T18:36","value":0.1089},
      {"series":"USGG5YR","time":"2021-11-10T18:42","value":0.1122},
      {"series":"USGG5YR","time":"2021-11-10T18:47","value":0.1119},
      {"series":"USGG5YR","time":"2021-11-10T18:51","value":0.1106},
      {"series":"USGG5YR","time":"2021-11-10T18:53","value":0.1139},
      {"series":"USGG5YR","time":"2021-11-10T18:55","value":0.1096},
      {"series":"USGG5YR","time":"2021-11-10T18:58","value":0.1251},
      {"series":"USGG5YR","time":"2021-11-10T18:59","value":0.1319},
      {"series":"USGG5YR","time":"2021-11-10T19:01","value":0.1282},
      {"series":"USGG5YR","time":"2021-11-10T19:04","value":0.1195},
      {"series":"USGG5YR","time":"2021-11-10T19:07","value":0.1182},
      {"series":"USGG5YR","time":"2021-11-10T19:10","value":0.1220},
      {"series":"USGG5YR","time":"2021-11-10T19:13","value":0.1158},
      {"series":"USGG5YR","time":"2021-11-10T19:16","value":0.1195},
      {"series":"USGG5YR","time":"2021-11-10T19:19","value":0.1120},
      {"series":"USGG5YR","time":"2021-11-10T19:21","value":0.1096},
      {"series":"USGG5YR","time":"2021-11-10T19:24","value":0.1133},
      {"series":"USGG5YR","time":"2021-11-10T19:27","value":0.1133},
      {"series":"USGG5YR","time":"2021-11-10T19:31","value":0.1170},
      {"series":"USGG5YR","time":"2021-11-10T19:33","value":0.1201},
      {"series":"USGG5YR","time":"2021-11-10T19:38","value":0.1182},
      {"series":"USGG5YR","time":"2021-11-10T19:42","value":0.1182},
      {"series":"USGG5YR","time":"2021-11-10T19:46","value":0.1170},
      {"series":"USGG5YR","time":"2021-11-10T19:50","value":0.1120},
      {"series":"USGG5YR","time":"2021-11-10T19:54","value":0.1114},
      {"series":"USGG5YR","time":"2021-11-10T19:58","value":0.1083},
      {"series":"USGG5YR","time":"2021-11-10T20:02","value":0.1077},
      {"series":"USGG5YR","time":"2021-11-10T20:05","value":0.1120},
      {"series":"USGG5YR","time":"2021-11-10T20:11","value":0.1120},
      {"series":"USGG5YR","time":"2021-11-10T20:16","value":0.1139},
      {"series":"USGG5YR","time":"2021-11-10T20:20","value":0.1182},
      {"series":"USGG5YR","time":"2021-11-10T20:24","value":0.1170},
      {"series":"USGG5YR","time":"2021-11-10T20:29","value":0.1182},
      {"series":"USGG5YR","time":"2021-11-10T20:33","value":0.1170},
      {"series":"USGG5YR","time":"2021-11-10T20:39","value":0.1145},
      {"series":"USGG5YR","time":"2021-11-10T20:43","value":0.1135},

      {"series":"USGG2YR","time":"2021-11-10T01:01","value":0.0048},
      {"series":"USGG2YR","time":"2021-11-10T01:08","value":0.0015},
      {"series":"USGG2YR","time":"2021-11-10T01:14","value":0.0001},
      {"series":"USGG2YR","time":"2021-11-10T01:20","value":0.0015},
      {"series":"USGG2YR","time":"2021-11-10T01:58","value":0.0015},
      {"series":"USGG2YR","time":"2021-11-10T02:01","value":0.0041},
      {"series":"USGG2YR","time":"2021-11-10T02:36","value":0.0041},
      {"series":"USGG2YR","time":"2021-11-10T02:39","value":0.0015},
      {"series":"USGG2YR","time":"2021-11-10T02:44","value":0.0048},
      {"series":"USGG2YR","time":"2021-11-10T02:56","value":0.0053},
      {"series":"USGG2YR","time":"2021-11-10T03:22","value":0.0048},
      {"series":"USGG2YR","time":"2021-11-10T03:31","value":0.0053},
      {"series":"USGG2YR","time":"2021-11-10T03:48","value":0.0077},
      {"series":"USGG2YR","time":"2021-11-10T04:16","value":0.0077},
      {"series":"USGG2YR","time":"2021-11-10T04:20","value":0.0048},
      {"series":"USGG2YR","time":"2021-11-10T04:26","value":0.0048},
      {"series":"USGG2YR","time":"2021-11-10T04:35","value":0.0058},
      {"series":"USGG2YR","time":"2021-11-10T04:41","value":0.0072},
      {"series":"USGG2YR","time":"2021-11-10T04:52","value":0.0072},
      {"series":"USGG2YR","time":"2021-11-10T04:55","value":0.0082},
      {"series":"USGG2YR","time":"2021-11-10T05:07","value":0.0096},
      {"series":"USGG2YR","time":"2021-11-10T05:30","value":0.0099},
      {"series":"USGG2YR","time":"2021-11-10T05:42","value":0.0106},
      {"series":"USGG2YR","time":"2021-11-10T05:59","value":0.0106},
      {"series":"USGG2YR","time":"2021-11-10T06:20","value":0.0077},
      {"series":"USGG2YR","time":"2021-11-10T07:06","value":0.0077},
      {"series":"USGG2YR","time":"2021-11-10T07:12","value":0.0087},
      {"series":"USGG2YR","time":"2021-11-10T07:32","value":0.0139},
      {"series":"USGG2YR","time":"2021-11-10T07:55","value":0.0139},
      {"series":"USGG2YR","time":"2021-11-10T08:04","value":0.0130},
      {"series":"USGG2YR","time":"2021-11-10T08:09","value":0.0192},
      {"series":"USGG2YR","time":"2021-11-10T08:11","value":0.0249},
      {"series":"USGG2YR","time":"2021-11-10T08:16","value":0.0299},
      {"series":"USGG2YR","time":"2021-11-10T08:20","value":0.0280},
      {"series":"USGG2YR","time":"2021-11-10T08:27","value":0.0280},
      {"series":"USGG2YR","time":"2021-11-10T08:33","value":0.0321},
      {"series":"USGG2YR","time":"2021-11-10T08:41","value":0.0321},
      {"series":"USGG2YR","time":"2021-11-10T08:46","value":0.0340},
      {"series":"USGG2YR","time":"2021-11-10T08:51","value":0.0340},
      {"series":"USGG2YR","time":"2021-11-10T08:55","value":0.0359},
      {"series":"USGG2YR","time":"2021-11-10T09:12","value":0.0359},
      {"series":"USGG2YR","time":"2021-11-10T09:16","value":0.0340},
      {"series":"USGG2YR","time":"2021-11-10T09:19","value":0.0299},
      {"series":"USGG2YR","time":"2021-11-10T09:26","value":0.0299},
      {"series":"USGG2YR","time":"2021-11-10T09:30","value":0.0283},
      {"series":"USGG2YR","time":"2021-11-10T09:33","value":0.0299},
      {"series":"USGG2YR","time":"2021-11-10T09:38","value":0.0280},
      {"series":"USGG2YR","time":"2021-11-10T09:44","value":0.0280},
      {"series":"USGG2YR","time":"2021-11-10T09:51","value":0.0321},
      {"series":"USGG2YR","time":"2021-11-10T10:00","value":0.0321},
      {"series":"USGG2YR","time":"2021-11-10T10:05","value":0.0340},
      {"series":"USGG2YR","time":"2021-11-10T10:10","value":0.0340},
      {"series":"USGG2YR","time":"2021-11-10T10:13","value":0.0328},
      {"series":"USGG2YR","time":"2021-11-10T10:19","value":0.0340},
      {"series":"USGG2YR","time":"2021-11-10T10:23","value":0.0328},
      {"series":"USGG2YR","time":"2021-11-10T10:30","value":0.0340},
      {"series":"USGG2YR","time":"2021-11-10T10:34","value":0.0359},
      {"series":"USGG2YR","time":"2021-11-10T10:38","value":0.0359},
      {"series":"USGG2YR","time":"2021-11-10T10:43","value":0.0340},
      {"series":"USGG2YR","time":"2021-11-10T10:51","value":0.0340},
      {"series":"USGG2YR","time":"2021-11-10T10:58","value":0.0299},
      {"series":"USGG2YR","time":"2021-11-10T11:21","value":0.0299},
      {"series":"USGG2YR","time":"2021-11-10T11:25","value":0.0321},
      {"series":"USGG2YR","time":"2021-11-10T11:39","value":0.0321},
      {"series":"USGG2YR","time":"2021-11-10T11:43","value":0.0299},
      {"series":"USGG2YR","time":"2021-11-10T12:00","value":0.0299},
      {"series":"USGG2YR","time":"2021-11-10T12:05","value":0.0278},
      {"series":"USGG2YR","time":"2021-11-10T12:08","value":0.0264},
      {"series":"USGG2YR","time":"2021-11-10T12:12","value":0.0280},
      {"series":"USGG2YR","time":"2021-11-10T12:23","value":0.0280},
      {"series":"USGG2YR","time":"2021-11-10T12:25","value":0.0299},
      {"series":"USGG2YR","time":"2021-11-10T12:44","value":0.0299},
      {"series":"USGG2YR","time":"2021-11-10T12:49","value":0.0321},
      {"series":"USGG2YR","time":"2021-11-10T12:52","value":0.0319},
      {"series":"USGG2YR","time":"2021-11-10T12:59","value":0.0280},
      {"series":"USGG2YR","time":"2021-11-10T13:05","value":0.0259},
      {"series":"USGG2YR","time":"2021-11-10T13:12","value":0.0259},
      {"series":"USGG2YR","time":"2021-11-10T13:17","value":0.0283},
      {"series":"USGG2YR","time":"2021-11-10T13:20","value":0.0321},
      {"series":"USGG2YR","time":"2021-11-10T13:23","value":0.0319},
      {"series":"USGG2YR","time":"2021-11-10T13:28","value":0.0299},
      {"series":"USGG2YR","time":"2021-11-10T13:32","value":0.0299},
      {"series":"USGG2YR","time":"2021-11-10T13:34","value":0.0319},
      {"series":"USGG2YR","time":"2021-11-10T13:37","value":0.0302},
      {"series":"USGG2YR","time":"2021-11-10T13:41","value":0.0321},
      {"series":"USGG2YR","time":"2021-11-10T13:45","value":0.0299},
      {"series":"USGG2YR","time":"2021-11-10T13:56","value":0.0299},
      {"series":"USGG2YR","time":"2021-11-10T13:59","value":0.0280},
      {"series":"USGG2YR","time":"2021-11-10T14:02","value":0.0280},
      {"series":"USGG2YR","time":"2021-11-10T14:07","value":0.0299},
      {"series":"USGG2YR","time":"2021-11-10T14:11","value":0.0280},
      {"series":"USGG2YR","time":"2021-11-10T14:15","value":0.0280},
      {"series":"USGG2YR","time":"2021-11-10T14:20","value":0.0299},
      {"series":"USGG2YR","time":"2021-11-10T14:25","value":0.0295},
      {"series":"USGG2YR","time":"2021-11-10T14:26","value":0.0633},
      {"series":"USGG2YR","time":"2021-11-10T14:30","value":0.0637},
      {"series":"USGG2YR","time":"2021-11-10T14:33","value":0.0601},
      {"series":"USGG2YR","time":"2021-11-10T14:36","value":0.0701},
      {"series":"USGG2YR","time":"2021-11-10T14:40","value":0.0653},
      {"series":"USGG2YR","time":"2021-11-10T14:44","value":0.0627},
      {"series":"USGG2YR","time":"2021-11-10T14:48","value":0.0582},
      {"series":"USGG2YR","time":"2021-11-10T14:52","value":0.0659},
      {"series":"USGG2YR","time":"2021-11-10T14:56","value":0.0633},
      {"series":"USGG2YR","time":"2021-11-10T15:00","value":0.0637},
      {"series":"USGG2YR","time":"2021-11-10T15:03","value":0.0627},
      {"series":"USGG2YR","time":"2021-11-10T15:06","value":0.0717},
      {"series":"USGG2YR","time":"2021-11-10T15:10","value":0.0781},
      {"series":"USGG2YR","time":"2021-11-10T15:14","value":0.0723},
      {"series":"USGG2YR","time":"2021-11-10T15:18","value":0.0720},
      {"series":"USGG2YR","time":"2021-11-10T15:24","value":0.0720},
      {"series":"USGG2YR","time":"2021-11-10T15:27","value":0.0672},
      {"series":"USGG2YR","time":"2021-11-10T15:29","value":0.0698},
      {"series":"USGG2YR","time":"2021-11-10T15:35","value":0.0710},
      {"series":"USGG2YR","time":"2021-11-10T15:40","value":0.0755},
      {"series":"USGG2YR","time":"2021-11-10T15:44","value":0.0765},
      {"series":"USGG2YR","time":"2021-11-10T15:48","value":0.0819},
      {"series":"USGG2YR","time":"2021-11-10T15:51","value":0.0762},
      {"series":"USGG2YR","time":"2021-11-10T15:55","value":0.0762},
      {"series":"USGG2YR","time":"2021-11-10T16:00","value":0.0794},
      {"series":"USGG2YR","time":"2021-11-10T16:05","value":0.0781},
      {"series":"USGG2YR","time":"2021-11-10T16:12","value":0.0781},
      {"series":"USGG2YR","time":"2021-11-10T16:15","value":0.0794},
      {"series":"USGG2YR","time":"2021-11-10T16:19","value":0.0787},
      {"series":"USGG2YR","time":"2021-11-10T16:23","value":0.0832},
      {"series":"USGG2YR","time":"2021-11-10T16:28","value":0.0806},
      {"series":"USGG2YR","time":"2021-11-10T16:32","value":0.0819},
      {"series":"USGG2YR","time":"2021-11-10T16:36","value":0.0845},
      {"series":"USGG2YR","time":"2021-11-10T16:42","value":0.0858},
      {"series":"USGG2YR","time":"2021-11-10T16:46","value":0.0832},
      {"series":"USGG2YR","time":"2021-11-10T16:51","value":0.0858},
      {"series":"USGG2YR","time":"2021-11-10T16:55","value":0.0855},
      {"series":"USGG2YR","time":"2021-11-10T16:59","value":0.0834},
      {"series":"USGG2YR","time":"2021-11-10T17:03","value":0.0801},
      {"series":"USGG2YR","time":"2021-11-10T17:08","value":0.0779},
      {"series":"USGG2YR","time":"2021-11-10T17:12","value":0.0861},
      {"series":"USGG2YR","time":"2021-11-10T17:17","value":0.0815},
      {"series":"USGG2YR","time":"2021-11-10T17:23","value":0.0779},
      {"series":"USGG2YR","time":"2021-11-10T17:31","value":0.0762},
      {"series":"USGG2YR","time":"2021-11-10T17:37","value":0.0719},
      {"series":"USGG2YR","time":"2021-11-10T17:47","value":0.0719},
      {"series":"USGG2YR","time":"2021-11-10T17:52","value":0.0760},
      {"series":"USGG2YR","time":"2021-11-10T17:57","value":0.0749},
      {"series":"USGG2YR","time":"2021-11-10T18:02","value":0.0779},
      {"series":"USGG2YR","time":"2021-11-10T18:08","value":0.0768},
      {"series":"USGG2YR","time":"2021-11-10T18:12","value":0.0779},
      {"series":"USGG2YR","time":"2021-11-10T18:16","value":0.0760},
      {"series":"USGG2YR","time":"2021-11-10T18:21","value":0.0779},
      {"series":"USGG2YR","time":"2021-11-10T18:26","value":0.0793},
      {"series":"USGG2YR","time":"2021-11-10T18:32","value":0.0839},
      {"series":"USGG2YR","time":"2021-11-10T18:38","value":0.0839},
      {"series":"USGG2YR","time":"2021-11-10T18:42","value":0.0817},
      {"series":"USGG2YR","time":"2021-11-10T18:49","value":0.0812},
      {"series":"USGG2YR","time":"2021-11-10T18:53","value":0.0822},
      {"series":"USGG2YR","time":"2021-11-10T18:55","value":0.0759},
      {"series":"USGG2YR","time":"2021-11-10T18:59","value":0.0840},
      {"series":"USGG2YR","time":"2021-11-10T19:01","value":0.0828},
      {"series":"USGG2YR","time":"2021-11-10T19:03","value":0.0722},
      {"series":"USGG2YR","time":"2021-11-10T19:06","value":0.0738},
      {"series":"USGG2YR","time":"2021-11-10T19:10","value":0.0734},
      {"series":"USGG2YR","time":"2021-11-10T19:13","value":0.0685},
      {"series":"USGG2YR","time":"2021-11-10T19:16","value":0.0759},
      {"series":"USGG2YR","time":"2021-11-10T19:19","value":0.0685},
      {"series":"USGG2YR","time":"2021-11-10T19:23","value":0.0722},
      {"series":"USGG2YR","time":"2021-11-10T19:26","value":0.0710},
      {"series":"USGG2YR","time":"2021-11-10T19:29","value":0.0719},
      {"series":"USGG2YR","time":"2021-11-10T19:35","value":0.0719},
      {"series":"USGG2YR","time":"2021-11-10T19:38","value":0.0666},
      {"series":"USGG2YR","time":"2021-11-10T19:42","value":0.0679},
      {"series":"USGG2YR","time":"2021-11-10T19:45","value":0.0647},
      {"series":"USGG2YR","time":"2021-11-10T19:48","value":0.0601},
      {"series":"USGG2YR","time":"2021-11-10T19:55","value":0.0601},
      {"series":"USGG2YR","time":"2021-11-10T19:57","value":0.0579},
      {"series":"USGG2YR","time":"2021-11-10T20:01","value":0.0566},
      {"series":"USGG2YR","time":"2021-11-10T20:04","value":0.0591},
      {"series":"USGG2YR","time":"2021-11-10T20:08","value":0.0619},
      {"series":"USGG2YR","time":"2021-11-10T20:14","value":0.0622},
      {"series":"USGG2YR","time":"2021-11-10T20:18","value":0.0654},
      {"series":"USGG2YR","time":"2021-11-10T20:24","value":0.0660},
      {"series":"USGG2YR","time":"2021-11-10T20:30","value":0.0700},
      {"series":"USGG2YR","time":"2021-11-10T20:34","value":0.0682},
      {"series":"USGG2YR","time":"2021-11-10T20:39","value":0.0679},
      {"series":"USGG2YR","time":"2021-11-10T20:42","value":0.0663},
      {"series":"USGG2YR","time":"2021-11-10T20:43","value":0.0681},

      {"series":"USGG30YR","time":"2021-11-10T01:00","value":0.0087},
      {"series":"USGG30YR","time":"2021-11-10T01:11","value":0.0072},
      {"series":"USGG30YR","time":"2021-11-10T01:24","value":0.0045},
      {"series":"USGG30YR","time":"2021-11-10T01:34","value":0.0030},
      {"series":"USGG30YR","time":"2021-11-10T01:47","value":0.0055},
      {"series":"USGG30YR","time":"2021-11-10T01:57","value":0.0101},
      {"series":"USGG30YR","time":"2021-11-10T02:08","value":0.0140},
      {"series":"USGG30YR","time":"2021-11-10T02:18","value":0.0175},
      {"series":"USGG30YR","time":"2021-11-10T02:30","value":0.0190},
      {"series":"USGG30YR","time":"2021-11-10T02:40","value":0.0185},
      {"series":"USGG30YR","time":"2021-11-10T02:50","value":0.0195},
      {"series":"USGG30YR","time":"2021-11-10T03:00","value":0.0207},
      {"series":"USGG30YR","time":"2021-11-10T03:12","value":0.0201},
      {"series":"USGG30YR","time":"2021-11-10T03:22","value":0.0185},
      {"series":"USGG30YR","time":"2021-11-10T03:28","value":0.0154},
      {"series":"USGG30YR","time":"2021-11-10T03:34","value":0.0090},
      {"series":"USGG30YR","time":"2021-11-10T03:45","value":0.0082},
      {"series":"USGG30YR","time":"2021-11-10T03:55","value":0.0096},
      {"series":"USGG30YR","time":"2021-11-10T04:05","value":0.0085},
      {"series":"USGG30YR","time":"2021-11-10T04:15","value":0.0060},
      {"series":"USGG30YR","time":"2021-11-10T04:25","value":0.0040},
      {"series":"USGG30YR","time":"2021-11-10T04:32","value":0.0018},
      {"series":"USGG30YR","time":"2021-11-10T04:40","value":0.0040},
      {"series":"USGG30YR","time":"2021-11-10T04:52","value":0.0058},
      {"series":"USGG30YR","time":"2021-11-10T05:05","value":0.0070},
      {"series":"USGG30YR","time":"2021-11-10T05:12","value":0.0077},
      {"series":"USGG30YR","time":"2021-11-10T05:22","value":0.0092},
      {"series":"USGG30YR","time":"2021-11-10T05:33","value":0.0106},
      {"series":"USGG30YR","time":"2021-11-10T05:44","value":0.0130},
      {"series":"USGG30YR","time":"2021-11-10T05:53","value":0.0144},
      {"series":"USGG30YR","time":"2021-11-10T05:58","value":0.0125},
      {"series":"USGG30YR","time":"2021-11-10T06:03","value":0.0144},
      {"series":"USGG30YR","time":"2021-11-10T06:10","value":0.0118},
      {"series":"USGG30YR","time":"2021-11-10T06:22","value":0.0118},
      {"series":"USGG30YR","time":"2021-11-10T06:35","value":0.0115},
      {"series":"USGG30YR","time":"2021-11-10T06:45","value":0.0100},
      {"series":"USGG30YR","time":"2021-11-10T06:55","value":0.0085},
      {"series":"USGG30YR","time":"2021-11-10T07:01","value":0.0072},
      {"series":"USGG30YR","time":"2021-11-10T07:10","value":0.0082},
      {"series":"USGG30YR","time":"2021-11-10T07:22","value":0.0090},
      {"series":"USGG30YR","time":"2021-11-10T07:27","value":0.0125},
      {"series":"USGG30YR","time":"2021-11-10T07:32","value":0.0150},
      {"series":"USGG30YR","time":"2021-11-10T07:43","value":0.0154},
      {"series":"USGG30YR","time":"2021-11-10T07:52","value":0.0135},
      {"series":"USGG30YR","time":"2021-11-10T07:58","value":0.0115},
      {"series":"USGG30YR","time":"2021-11-10T08:02","value":0.0096},
      {"series":"USGG30YR","time":"2021-11-10T08:09","value":0.0177},
      {"series":"USGG30YR","time":"2021-11-10T08:15","value":0.0199},
      {"series":"USGG30YR","time":"2021-11-10T08:20","value":0.0166},
      {"series":"USGG30YR","time":"2021-11-10T08:25","value":0.0166},
      {"series":"USGG30YR","time":"2021-11-10T08:30","value":0.0142},
      {"series":"USGG30YR","time":"2021-11-10T08:36","value":0.0163},
      {"series":"USGG30YR","time":"2021-11-10T08:48","value":0.0166},
      {"series":"USGG30YR","time":"2021-11-10T08:53","value":0.0244},
      {"series":"USGG30YR","time":"2021-11-10T09:01","value":0.0192},
      {"series":"USGG30YR","time":"2021-11-10T09:04","value":0.0232},
      {"series":"USGG30YR","time":"2021-11-10T09:13","value":0.0232},
      {"series":"USGG30YR","time":"2021-11-10T09:16","value":0.0213},
      {"series":"USGG30YR","time":"2021-11-10T09:22","value":0.0204},
      {"series":"USGG30YR","time":"2021-11-10T09:29","value":0.0218},
      {"series":"USGG30YR","time":"2021-11-10T09:38","value":0.0192},
      {"series":"USGG30YR","time":"2021-11-10T09:42","value":0.0211},
      {"series":"USGG30YR","time":"2021-11-10T09:50","value":0.0252},
      {"series":"USGG30YR","time":"2021-11-10T09:55","value":0.0232},
      {"series":"USGG30YR","time":"2021-11-10T09:59","value":0.0232},
      {"series":"USGG30YR","time":"2021-11-10T10:03","value":0.0278},
      {"series":"USGG30YR","time":"2021-11-10T10:08","value":0.0321},
      {"series":"USGG30YR","time":"2021-11-10T10:12","value":0.0354},
      {"series":"USGG30YR","time":"2021-11-10T10:19","value":0.0302},
      {"series":"USGG30YR","time":"2021-11-10T10:21","value":0.0311},
      {"series":"USGG30YR","time":"2021-11-10T10:28","value":0.0311},
      {"series":"USGG30YR","time":"2021-11-10T10:31","value":0.0359},
      {"series":"USGG30YR","time":"2021-11-10T10:33","value":0.0369},
      {"series":"USGG30YR","time":"2021-11-10T10:35","value":0.0323},
      {"series":"USGG30YR","time":"2021-11-10T10:41","value":0.0321},
      {"series":"USGG30YR","time":"2021-11-10T10:44","value":0.0302},
      {"series":"USGG30YR","time":"2021-11-10T10:47","value":0.0323},
      {"series":"USGG30YR","time":"2021-11-10T10:51","value":0.0316},
      {"series":"USGG30YR","time":"2021-11-10T10:56","value":0.0297},
      {"series":"USGG30YR","time":"2021-11-10T11:00","value":0.0318},
      {"series":"USGG30YR","time":"2021-11-10T11:07","value":0.0311},
      {"series":"USGG30YR","time":"2021-11-10T11:12","value":0.0297},
      {"series":"USGG30YR","time":"2021-11-10T11:15","value":0.0259},
      {"series":"USGG30YR","time":"2021-11-10T11:19","value":0.0259},
      {"series":"USGG30YR","time":"2021-11-10T11:23","value":0.0297},
      {"series":"USGG30YR","time":"2021-11-10T11:26","value":0.0321},
      {"series":"USGG30YR","time":"2021-11-10T11:31","value":0.0302},
      {"series":"USGG30YR","time":"2021-11-10T11:36","value":0.0323},
      {"series":"USGG30YR","time":"2021-11-10T11:39","value":0.0323},
      {"series":"USGG30YR","time":"2021-11-10T11:42","value":0.0359},
      {"series":"USGG30YR","time":"2021-11-10T11:48","value":0.0350},
      {"series":"USGG30YR","time":"2021-11-10T11:55","value":0.0345},
      {"series":"USGG30YR","time":"2021-11-10T12:00","value":0.0378},
      {"series":"USGG30YR","time":"2021-11-10T12:03","value":0.0369},
      {"series":"USGG30YR","time":"2021-11-10T12:07","value":0.0350},
      {"series":"USGG30YR","time":"2021-11-10T12:11","value":0.0330},
      {"series":"USGG30YR","time":"2021-11-10T12:14","value":0.0338},
      {"series":"USGG30YR","time":"2021-11-10T12:26","value":0.0338},
      {"series":"USGG30YR","time":"2021-11-10T12:28","value":0.0328},
      {"series":"USGG30YR","time":"2021-11-10T12:33","value":0.0369},
      {"series":"USGG30YR","time":"2021-11-10T12:38","value":0.0357},
      {"series":"USGG30YR","time":"2021-11-10T12:43","value":0.0383},
      {"series":"USGG30YR","time":"2021-11-10T12:49","value":0.0388},
      {"series":"USGG30YR","time":"2021-11-10T12:55","value":0.0412},
      {"series":"USGG30YR","time":"2021-11-10T12:57","value":0.0409},
      {"series":"USGG30YR","time":"2021-11-10T13:03","value":0.0311},
      {"series":"USGG30YR","time":"2021-11-10T13:06","value":0.0278},
      {"series":"USGG30YR","time":"2021-11-10T13:10","value":0.0259},
      {"series":"USGG30YR","time":"2021-11-10T13:14","value":0.0247},
      {"series":"USGG30YR","time":"2021-11-10T13:17","value":0.0268},
      {"series":"USGG30YR","time":"2021-11-10T13:23","value":0.0288},
      {"series":"USGG30YR","time":"2021-11-10T13:28","value":0.0292},
      {"series":"USGG30YR","time":"2021-11-10T13:32","value":0.0273},
      {"series":"USGG30YR","time":"2021-11-10T13:35","value":0.0264},
      {"series":"USGG30YR","time":"2021-11-10T13:39","value":0.0283},
      {"series":"USGG30YR","time":"2021-11-10T13:43","value":0.0245},
      {"series":"USGG30YR","time":"2021-11-10T13:49","value":0.0252},
      {"series":"USGG30YR","time":"2021-11-10T13:56","value":0.0256},
      {"series":"USGG30YR","time":"2021-11-10T13:58","value":0.0230},
      {"series":"USGG30YR","time":"2021-11-10T14:02","value":0.0223},
      {"series":"USGG30YR","time":"2021-11-10T14:07","value":0.0213},
      {"series":"USGG30YR","time":"2021-11-10T14:11","value":0.0197},
      {"series":"USGG30YR","time":"2021-11-10T14:15","value":0.0154},
      {"series":"USGG30YR","time":"2021-11-10T14:19","value":0.0115},
      {"series":"USGG30YR","time":"2021-11-10T14:24","value":0.0096},
      {"series":"USGG30YR","time":"2021-11-10T14:26","value":0.0216},
      {"series":"USGG30YR","time":"2021-11-10T14:28","value":0.0228},
      {"series":"USGG30YR","time":"2021-11-10T14:32","value":0.0206},
      {"series":"USGG30YR","time":"2021-11-10T14:35","value":0.0153},
      {"series":"USGG30YR","time":"2021-11-10T14:38","value":0.0185},
      {"series":"USGG30YR","time":"2021-11-10T14:41","value":0.0185},
      {"series":"USGG30YR","time":"2021-11-10T14:46","value":0.0115},
      {"series":"USGG30YR","time":"2021-11-10T14:50","value":0.0076},
      {"series":"USGG30YR","time":"2021-11-10T14:56","value":0.0070},
      {"series":"USGG30YR","time":"2021-11-10T15:02","value":0.0063},
      {"series":"USGG30YR","time":"2021-11-10T15:05","value":0.0102},
      {"series":"USGG30YR","time":"2021-11-10T15:09","value":0.0134},
      {"series":"USGG30YR","time":"2021-11-10T15:12","value":0.0096},
      {"series":"USGG30YR","time":"2021-11-10T15:16","value":0.0038},
      {"series":"USGG30YR","time":"2021-11-10T15:19","value":0.0000},
      {"series":"USGG30YR","time":"2021-11-10T15:23","value":0.0073},
      {"series":"USGG30YR","time":"2021-11-10T15:27","value":0.0063},
      {"series":"USGG30YR","time":"2021-11-10T15:30","value":0.0192},
      {"series":"USGG30YR","time":"2021-11-10T15:34","value":0.0198},
      {"series":"USGG30YR","time":"2021-11-10T15:38","value":0.0172},
      {"series":"USGG30YR","time":"2021-11-10T15:42","value":0.0172},
      {"series":"USGG30YR","time":"2021-11-10T15:44","value":0.0153},
      {"series":"USGG30YR","time":"2021-11-10T15:49","value":0.0217},
      {"series":"USGG30YR","time":"2021-11-10T15:53","value":0.0256},
      {"series":"USGG30YR","time":"2021-11-10T15:57","value":0.0166},
      {"series":"USGG30YR","time":"2021-11-10T16:01","value":0.0185},
      {"series":"USGG30YR","time":"2021-11-10T16:06","value":0.0147},
      {"series":"USGG30YR","time":"2021-11-10T16:12","value":0.0102},
      {"series":"USGG30YR","time":"2021-11-10T16:17","value":0.0140},
      {"series":"USGG30YR","time":"2021-11-10T16:23","value":0.0172},
      {"series":"USGG30YR","time":"2021-11-10T16:28","value":0.0262},
      {"series":"USGG30YR","time":"2021-11-10T16:32","value":0.0384},
      {"series":"USGG30YR","time":"2021-11-10T16:36","value":0.0409},
      {"series":"USGG30YR","time":"2021-11-10T16:40","value":0.0429},
      {"series":"USGG30YR","time":"2021-11-10T16:43","value":0.0461},
      {"series":"USGG30YR","time":"2021-11-10T16:46","value":0.0441},
      {"series":"USGG30YR","time":"2021-11-10T16:50","value":0.0493},
      {"series":"USGG30YR","time":"2021-11-10T16:54","value":0.0496},
      {"series":"USGG30YR","time":"2021-11-10T16:57","value":0.0473},
      {"series":"USGG30YR","time":"2021-11-10T17:01","value":0.0411},
      {"series":"USGG30YR","time":"2021-11-10T17:06","value":0.0460},
      {"series":"USGG30YR","time":"2021-11-10T17:09","value":0.0488},
      {"series":"USGG30YR","time":"2021-11-10T17:12","value":0.0529},
      {"series":"USGG30YR","time":"2021-11-10T17:18","value":0.0529},
      {"series":"USGG30YR","time":"2021-11-10T17:20","value":0.0507},
      {"series":"USGG30YR","time":"2021-11-10T17:24","value":0.0565},
      {"series":"USGG30YR","time":"2021-11-10T17:29","value":0.0633},
      {"series":"USGG30YR","time":"2021-11-10T17:32","value":0.0576},
      {"series":"USGG30YR","time":"2021-11-10T17:38","value":0.0567},
      {"series":"USGG30YR","time":"2021-11-10T17:43","value":0.0581},
      {"series":"USGG30YR","time":"2021-11-10T17:48","value":0.0570},
      {"series":"USGG30YR","time":"2021-11-10T17:51","value":0.0570},
      {"series":"USGG30YR","time":"2021-11-10T17:55","value":0.0614},
      {"series":"USGG30YR","time":"2021-11-10T18:00","value":0.0622},
      {"series":"USGG30YR","time":"2021-11-10T18:04","value":0.0598},
      {"series":"USGG30YR","time":"2021-11-10T18:08","value":0.0567},
      {"series":"USGG30YR","time":"2021-11-10T18:12","value":0.0581},
      {"series":"USGG30YR","time":"2021-11-10T18:16","value":0.0587},
      {"series":"USGG30YR","time":"2021-11-10T18:21","value":0.0631},
      {"series":"USGG30YR","time":"2021-11-10T18:26","value":0.0622},
      {"series":"USGG30YR","time":"2021-11-10T18:32","value":0.0620},
      {"series":"USGG30YR","time":"2021-11-10T18:35","value":0.0604},
      {"series":"USGG30YR","time":"2021-11-10T18:38","value":0.0631},
      {"series":"USGG30YR","time":"2021-11-10T18:42","value":0.0669},
      {"series":"USGG30YR","time":"2021-11-10T18:49","value":0.0677},
      {"series":"USGG30YR","time":"2021-11-10T18:53","value":0.0697},
      {"series":"USGG30YR","time":"2021-11-10T18:57","value":0.0710},
      {"series":"USGG30YR","time":"2021-11-10T18:58","value":0.1270},
      {"series":"USGG30YR","time":"2021-11-10T19:01","value":0.1270},
      {"series":"USGG30YR","time":"2021-11-10T19:04","value":0.1264},
      {"series":"USGG30YR","time":"2021-11-10T19:07","value":0.1089},
      {"series":"USGG30YR","time":"2021-11-10T19:10","value":0.1145},
      {"series":"USGG30YR","time":"2021-11-10T19:13","value":0.1164},
      {"series":"USGG30YR","time":"2021-11-10T19:16","value":0.1083},
      {"series":"USGG30YR","time":"2021-11-10T19:19","value":0.0952},
      {"series":"USGG30YR","time":"2021-11-10T19:24","value":0.0946},
      {"series":"USGG30YR","time":"2021-11-10T19:27","value":0.0983},
      {"series":"USGG30YR","time":"2021-11-10T19:30","value":0.1002},
      {"series":"USGG30YR","time":"2021-11-10T19:33","value":0.1021},
      {"series":"USGG30YR","time":"2021-11-10T19:38","value":0.0983},
      {"series":"USGG30YR","time":"2021-11-10T19:42","value":0.0977},
      {"series":"USGG30YR","time":"2021-11-10T19:45","value":0.0983},
      {"series":"USGG30YR","time":"2021-11-10T19:48","value":0.0909},
      {"series":"USGG30YR","time":"2021-11-10T19:51","value":0.0884},
      {"series":"USGG30YR","time":"2021-11-10T19:55","value":0.0878},
      {"series":"USGG30YR","time":"2021-11-10T19:58","value":0.0915},
      {"series":"USGG30YR","time":"2021-11-10T20:03","value":0.0918},
      {"series":"USGG30YR","time":"2021-11-10T20:10","value":0.0912},
      {"series":"USGG30YR","time":"2021-11-10T20:12","value":0.0971},
      {"series":"USGG30YR","time":"2021-11-10T20:17","value":0.0965},
      {"series":"USGG30YR","time":"2021-11-10T20:21","value":0.0965},
      {"series":"USGG30YR","time":"2021-11-10T20:24","value":0.0934},
      {"series":"USGG30YR","time":"2021-11-10T20:27","value":0.0952},
      {"series":"USGG30YR","time":"2021-11-10T20:29","value":0.0946},
      {"series":"USGG30YR","time":"2021-11-10T20:33","value":0.0909},
      {"series":"USGG30YR","time":"2021-11-10T20:36","value":0.0846},
      {"series":"USGG30YR","time":"2021-11-10T20:40","value":0.0840},
      {"series":"USGG30YR","time":"2021-11-10T20:43","value":0.0848}
    ]
  },
  "layer": [
    {
      "data": {"name": "tags"},
      "transform": [{"lookup": "series", "from": {"data": {"name": "names"}, "key": "series", "fields": ["name"]}}],
      "mark": {"type": "point", "shape": "M0.08,0L0.44,-0.46L3,-0.46L3,0.46L0.44,0.46Z", "size": 10000, "filled": true, "opacity": 1, "stroke": "#000000", "strokeWidth": 2},
      "encoding": {
        "x": {"field": "time", "type": "temporal"},
        "y": {"field": "value", "type": "quantitative"},
        "color": {"field": "name", "type": "nominal"}
      }
    },
    {
      "data": {"name": "closeline"},
      "transform": [{"lookup": "series", "from": {"data": {"name": "names"}, "key": "series", "fields": ["name"]}}],
      "mark": {"type": "line", "strokeWidth": 3, "strokeDash": [6, 6]},
      "encoding": {
        "x": {"field": "time", "type": "temporal",
              "scale": {"domain": [{"year": 2021, "month": 11, "date": 9, "hours": 23, "minutes": 52, "seconds": 30}, {"year": 2021, "month": 11, "date": 10, "hours": 23, "minutes": 48, "seconds": 10}], "nice": false},
              "axis": {
                "title": "10 Nov 2021", "titleFontSize": 36, "titleFontWeight": "normal", "titleColor": "#111111", "titlePadding": 4,
                "format": "%H:%M",
                "values": [
                  {"year": 2021, "month": 11, "date": 10, "hours": 2},
                  {"year": 2021, "month": 11, "date": 10, "hours": 4},
                  {"year": 2021, "month": 11, "date": 10, "hours": 6},
                  {"year": 2021, "month": 11, "date": 10, "hours": 8},
                  {"year": 2021, "month": 11, "date": 10, "hours": 10},
                  {"year": 2021, "month": 11, "date": 10, "hours": 12},
                  {"year": 2021, "month": 11, "date": 10, "hours": 14},
                  {"year": 2021, "month": 11, "date": 10, "hours": 16},
                  {"year": 2021, "month": 11, "date": 10, "hours": 18},
                  {"year": 2021, "month": 11, "date": 10, "hours": 20},
                  {"year": 2021, "month": 11, "date": 10, "hours": 22}
                ],
                "labelFontSize": 40, "labelColor": "#111111", "labelPadding": 3, "labelFlush": false,
                "domainColor": "#000000", "domainWidth": 5,
                "tickColor": "#000000", "tickWidth": 2, "tickSize": 12,
                "grid": true, "gridColor": "#c4c8d2", "gridDash": [7, 7], "gridWidth": 2
              }},
        "y": {"field": "value", "type": "quantitative",
              "scale": {"domain": [-0.02396, 0.15883], "nice": false, "zero": false},
              "axis": {
                "orient": "right", "title": null, "format": ".2f",
                "values": [-0.02, 0, 0.02, 0.04, 0.06, 0.08, 0.1, 0.12, 0.14],
                "labelFontSize": 37, "labelColor": "#111111", "labelPadding": 10,
                "domainColor": "#000000", "domainWidth": 4,
                "tickColor": "#000000", "tickSize": 18, "tickWidth": 5,
                "grid": true, "gridColor": "#c4c8d2", "gridDash": [7, 7], "gridWidth": 2
              }},
        "color": {"field": "name", "type": "nominal",
                  "scale": {
                    "domain": [
                      "USGG10YR Index - Mid Price\u00a0\u00a00.1067",
                      "Close on 11/09 ----\u00a0\u00a0\u00a0\u00a0\u00a0\u00a0\u00a0\u00a0\u00a0\u00a0\u00a0\u00a0\u00a0\u00a0\u00a0\u00a0\u00a0\u00a0\u00a0\u00a00.00",
                      "USGG2YR Index - Mid Price\u00a0\u00a0\u00a0\u00a00.0681",
                      "USGG5YR Index - Mid Price\u00a0\u00a0\u00a0\u00a00.1135",
                      "USGG30YR Index - Mid Price\u00a0\u00a00.0848"
                    ],
                    "range": ["#2f7ed8", "#2f7ed8", "#f06400", "#0b8a1e", "#b52ee8"]},
                  "legend": {
                    "orient": "none", "legendX": 0, "legendY": 926,
                    "title": "Normalized As Of 11/10/2021", "titleLimit": 1500, "titleAnchor": "middle", "titlePadding": 14,
                    "titleFontSize": 38, "titleFontWeight": "normal", "titleColor": "#111111",
                    "labelFontSize": 38, "labelColor": "#111111", "labelLimit": 2000, "labelOffset": 12,
                    "symbolType": "square", "symbolSize": 1089, "symbolStrokeWidth": 0, "symbolOffset": 22,
                    "padding": 28, "rowPadding": 11, "cornerRadius": 9,
                    "fillColor": "rgba(222,222,222,0.82)", "strokeColor": "#000000"
                  }}
      }
    },
    {
      "data": {"name": "yields"},
      "transform": [
        {"filter": "datum.series != 'USGG10YR'"},
        {"lookup": "series", "from": {"data": {"name": "names"}, "key": "series", "fields": ["name"]}}
      ],
      "mark": {"type": "line", "strokeWidth": 3},
      "encoding": {
        "x": {"field": "time", "type": "temporal"},
        "y": {"field": "value", "type": "quantitative"},
        "color": {"field": "name", "type": "nominal"}
      }
    },
    {
      "data": {"name": "yields"},
      "transform": [
        {"filter": "datum.series == 'USGG10YR'"},
        {"lookup": "series", "from": {"data": {"name": "names"}, "key": "series", "fields": ["name"]}}
      ],
      "mark": {"type": "line", "strokeWidth": 3, "interpolate": "step-after"},
      "encoding": {
        "x": {"field": "time", "type": "temporal"},
        "y": {"field": "value", "type": "quantitative"},
        "color": {"field": "name", "type": "nominal"}
      }
    },
    {
      "data": {"name": "tags"},
      "transform": [{"filter": "datum.series != 'USGG2YR'"}],
      "mark": {"type": "text", "align": "left", "baseline": "middle", "dx": 25, "fontSize": 36, "fill": "#ffffff"},
      "encoding": {
        "x": {"field": "time", "type": "temporal"},
        "y": {"field": "value", "type": "quantitative"},
        "text": {"field": "value", "type": "quantitative", "format": ".4f"}
      }
    },
    {
      "data": {"name": "tags"},
      "transform": [{"filter": "datum.series == 'USGG2YR'"}],
      "mark": {"type": "text", "align": "left", "baseline": "middle", "dx": 25, "fontSize": 36, "fill": "#111111"},
      "encoding": {
        "x": {"field": "time", "type": "temporal"},
        "y": {"field": "value", "type": "quantitative"},
        "text": {"field": "value", "type": "quantitative", "format": ".4f"}
      }
    },
    {
      "data": {"name": "notes"},
      "transform": [{"filter": "datum.label == '5y'"}],
      "mark": {"type": "text", "align": "center", "baseline": "middle", "font": "DejaVu Sans", "fontWeight": "bold", "fontSize": 52, "fill": "#6e8c00"},
      "encoding": {
        "x": {"field": "time", "type": "temporal"},
        "y": {"field": "value", "type": "quantitative"},
        "text": {"field": "label", "type": "nominal"}
      }
    },
    {
      "data": {"name": "notes"},
      "transform": [{"filter": "datum.label == '10y'"}],
      "mark": {"type": "text", "align": "center", "baseline": "middle", "font": "DejaVu Sans", "fontWeight": "bold", "fontSize": 52, "fill": "#2c6aab"},
      "encoding": {
        "x": {"field": "time", "type": "temporal"},
        "y": {"field": "value", "type": "quantitative"},
        "text": {"field": "label", "type": "nominal"}
      }
    },
    {
      "data": {"name": "notes"},
      "transform": [{"filter": "datum.label == '2y'"}],
      "mark": {"type": "text", "align": "center", "baseline": "middle", "font": "DejaVu Sans", "fontWeight": "bold", "fontSize": 52, "fill": "#f26b0f"},
      "encoding": {
        "x": {"field": "time", "type": "temporal"},
        "y": {"field": "value", "type": "quantitative"},
        "text": {"field": "label", "type": "nominal"}
      }
    },
    {
      "data": {"name": "notes"},
      "transform": [{"filter": "datum.label == '30y'"}],
      "mark": {"type": "text", "align": "center", "baseline": "middle", "font": "DejaVu Sans", "fontSize": 50, "fill": "#d88ef4"},
      "encoding": {
        "x": {"field": "time", "type": "temporal"},
        "y": {"field": "value", "type": "quantitative"},
        "text": {"field": "label", "type": "nominal"}
      }
    }
  ]
}
